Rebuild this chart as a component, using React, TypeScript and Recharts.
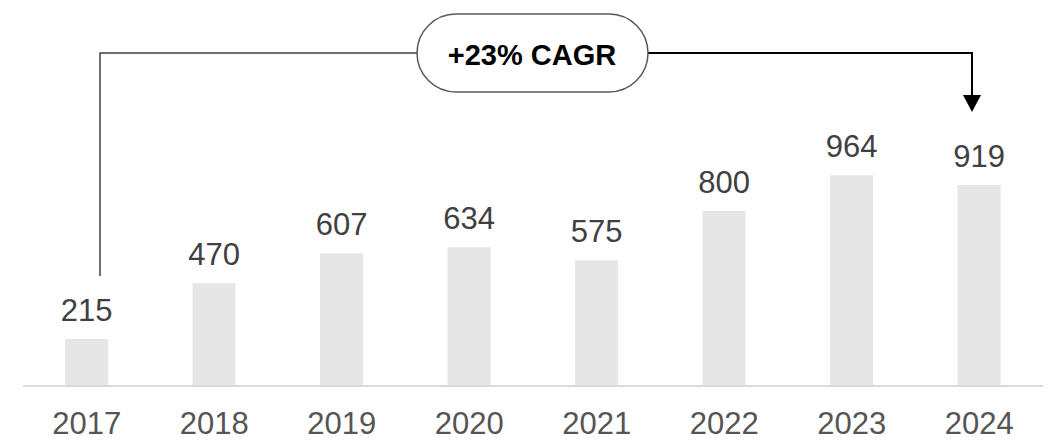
import React from 'react'
import { BarChart, Bar, XAxis, YAxis, LabelList } from 'recharts'

const years = ['2017', '2018', '2019', '2020', '2021', '2022', '2023', '2024']
const values = [215, 470, 607, 634, 575, 800, 964, 919]
const cagrLabel = '+23% CAGR'

const data = years.map((year, i) => ({ year, value: values[i] }))

const FONT = "Arial, 'Liberation Sans', sans-serif"

function App() {
  return (
    <div style={{ position: 'absolute', left: 0, top: 0, width: 1048, height: 444, background: '#fff' }}>
      <BarChart
        width={1048}
        height={444}
        data={data}
        margin={{ top: 36, right: 5, bottom: 0, left: 23 }}
        barCategoryGap="33%"
      >
        <XAxis
          dataKey="year"
          tickLine={false}
          axisLine={{ stroke: '#d9d9d9', strokeWidth: 2 }}
          tickMargin={20}
          tick={{ fill: '#555555', fontSize: 31, fontFamily: FONT }}
          interval={0}
          height={58}
        />
        <YAxis hide domain={[0, 1600]} />
        <Bar dataKey="value" fill="#e6e6e6" isAnimationActive={false}>
          <LabelList
            dataKey="value"
            position="top"
            offset={18}
            fill="#404040"
            fontSize={31}
            fontFamily={FONT}
          />
        </Bar>
      </BarChart>

      {/* CAGR callout */}
      <svg width={1048} height={444} style={{ position: 'absolute', left: 0, top: 0, pointerEvents: 'none' }}>
        <polyline points="100,276 100,53 417,53" fill="none" stroke="#404040" strokeWidth={1.5} />
        <polyline points="648,53 972,53 972,97" fill="none" stroke="#000" strokeWidth={2} />
        <polygon points="963,95 981,95 972,112" fill="#000" />
        <rect x={417} y={14} width={231} height={78} rx={39} ry={39} fill="#fff" stroke="#595959" strokeWidth={1.5} />
        <text x={532} y={65} textAnchor="middle" fontSize={29} fontWeight="bold" fontFamily={FONT} fill="#000">
          {cagrLabel}
        </text>
      </svg>
    </div>
  )
}

export default App
